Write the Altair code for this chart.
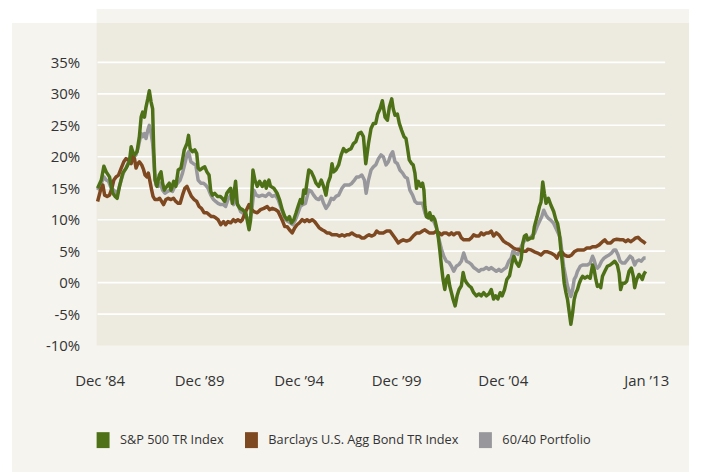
import altair as alt
import pandas as pd

# (year, rolling annualized return %)
sp500 = [(1984.92,15.0),(1985.11,16.3),(1985.24,18.5),(1985.36,17.6),(1985.53,16.8),(1985.62,15.3),(1985.70,14.2),(1985.82,13.7),(1985.92,13.4),(1986.04,15.3),(1986.21,17.4),(1986.38,18.2),(1986.55,19.2),(1986.64,21.6),(1986.72,20.8),(1986.81,20.3),(1986.94,20.8),(1987.06,23.2),(1987.15,26.3),(1987.23,27.1),(1987.32,26.3),(1987.40,27.9),(1987.49,29.2),(1987.57,30.5),(1987.66,28.7),(1987.74,27.6),(1987.79,21.6),(1987.86,16.3),(1987.96,15.3),(1988.08,17.1),(1988.17,17.6),(1988.25,15.8),(1988.34,14.7),(1988.47,15.3),(1988.59,15.8),(1988.68,14.7),(1988.82,16.1),(1988.93,15.3),(1989.05,17.9),(1989.19,18.2),(1989.27,19.5),(1989.36,21.1),(1989.50,22.1),(1989.58,23.4),(1989.66,21.3),(1989.78,20.8),(1989.90,21.1),(1990.00,20.5),(1990.07,18.2),(1990.17,17.9),(1990.29,18.2),(1990.41,18.4),(1990.52,17.6),(1990.63,17.1),(1990.72,14.5),(1990.80,13.9),(1990.92,14.2),(1991.06,13.7),(1991.20,13.7),(1991.31,13.4),(1991.43,12.9),(1991.54,14.2),(1991.65,14.7),(1991.74,15.0),(1991.82,12.6),(1991.91,14.2),(1991.99,16.1),(1992.08,12.4),(1992.22,11.8),(1992.34,11.6),(1992.51,11.1),(1992.68,8.4),(1992.76,10.0),(1992.88,17.9),(1992.98,16.3),(1993.10,15.3),(1993.22,16.1),(1993.36,15.3),(1993.49,16.1),(1993.56,15.0),(1993.70,16.3),(1993.78,15.3),(1993.95,15.0),(1994.12,14.2),(1994.24,13.2),(1994.38,11.6),(1994.51,10.5),(1994.63,10.0),(1994.75,10.5),(1994.85,9.5),(1994.97,10.0),(1995.09,11.1),(1995.19,12.1),(1995.31,13.2),(1995.40,12.6),(1995.48,14.7),(1995.57,14.2),(1995.74,17.9),(1995.87,17.6),(1995.99,16.8),(1996.11,15.8),(1996.25,15.3),(1996.38,16.3),(1996.50,15.3),(1996.62,13.9),(1996.72,15.8),(1996.84,16.8),(1996.93,18.9),(1997.01,17.6),(1997.13,17.9),(1997.27,18.7),(1997.40,20.3),(1997.52,21.3),(1997.64,20.8),(1997.78,21.1),(1997.91,21.3),(1998.03,22.1),(1998.15,22.4),(1998.29,23.7),(1998.42,23.9),(1998.54,23.2),(1998.66,18.9),(1998.80,22.1),(1998.93,24.5),(1999.05,25.3),(1999.17,25.3),(1999.27,26.8),(1999.39,27.6),(1999.51,28.9),(1999.65,26.3),(1999.77,25.8),(1999.87,27.9),(1999.99,29.2),(2000.07,27.6),(2000.16,26.6),(2000.28,26.8),(2000.38,25.3),(2000.50,24.2),(2000.62,23.2),(2000.72,22.9),(2000.79,21.6),(2000.89,19.5),(2001.01,18.9),(2001.09,18.7),(2001.18,17.4),(2001.26,15.0),(2001.35,16.1),(2001.47,15.3),(2001.57,15.8),(2001.64,14.7),(2001.69,12.1),(2001.77,10.5),(2001.86,10.3),(2001.94,11.1),(2002.03,10.0),(2002.11,10.5),(2002.20,10.0),(2002.28,8.9),(2002.37,7.4),(2002.45,5.3),(2002.54,2.6),(2002.62,0.5),(2002.71,-1.1),(2002.79,0.5),(2002.88,1.1),(2002.96,-0.5),(2003.05,-1.6),(2003.13,-2.6),(2003.24,-3.7),(2003.34,-2.1),(2003.44,-1.1),(2003.56,-0.5),(2003.65,1.6),(2003.73,0.5),(2003.82,0.0),(2003.95,-0.5),(2004.07,-0.8),(2004.19,-1.6),(2004.33,-2.1),(2004.46,-1.8),(2004.58,-2.1),(2004.70,-1.6),(2004.84,-2.1),(2004.97,-1.8),(2005.09,-1.1),(2005.21,-2.6),(2005.31,-2.1),(2005.43,-2.6),(2005.55,-1.6),(2005.65,-2.1),(2005.77,-1.1),(2005.89,0.5),(2006.03,1.1),(2006.16,3.2),(2006.25,4.2),(2006.37,3.2),(2006.50,2.6),(2006.62,3.7),(2006.71,6.3),(2006.79,7.4),(2006.88,7.6),(2006.96,6.8),(2007.13,7.1),(2007.22,7.1),(2007.30,8.9),(2007.44,10.5),(2007.56,12.1),(2007.64,12.8),(2007.73,16.0),(2007.81,14.2),(2007.90,12.6),(2008.02,13.4),(2008.15,12.3),(2008.29,11.3),(2008.41,9.9),(2008.49,9.4),(2008.58,7.8),(2008.66,5.2),(2008.75,2.6),(2008.83,-0.1),(2008.92,-1.6),(2009.00,-2.7),(2009.09,-4.8),(2009.17,-6.6),(2009.26,-4.8),(2009.34,-2.7),(2009.43,-1.6),(2009.51,-1.1),(2009.60,-0.1),(2009.68,0.5),(2009.77,1.0),(2009.89,0.7),(2010.02,1.0),(2010.16,0.7),(2010.28,2.8),(2010.36,2.1),(2010.45,0.5),(2010.53,-0.6),(2010.62,-0.4),(2010.70,-0.8),(2010.79,1.0),(2010.91,1.8),(2011.04,2.6),(2011.18,2.8),(2011.30,3.1),(2011.42,3.4),(2011.55,2.8),(2011.64,1.5),(2011.72,-1.1),(2011.81,-0.1),(2011.93,-0.1),(2012.03,0.2),(2012.15,1.8),(2012.27,2.3),(2012.37,1.0),(2012.44,-0.8),(2012.54,0.5),(2012.66,1.3),(2012.74,1.0),(2012.83,0.5),(2012.91,1.3),(2013.00,1.8)]

barclays = [(1984.92,12.9),(1985.07,14.7),(1985.19,15.5),(1985.28,13.9),(1985.41,13.7),(1985.53,13.9),(1985.65,15.0),(1985.75,16.3),(1985.87,16.8),(1985.99,17.1),(1986.13,18.2),(1986.26,19.2),(1986.38,19.7),(1986.50,19.5),(1986.64,18.9),(1986.72,20.3),(1986.81,19.7),(1986.89,18.2),(1986.98,18.9),(1987.06,19.2),(1987.18,18.7),(1987.28,17.9),(1987.35,17.1),(1987.45,16.8),(1987.52,17.4),(1987.62,15.8),(1987.69,14.7),(1987.76,13.7),(1987.86,13.2),(1988.00,13.2),(1988.10,13.4),(1988.20,12.9),(1988.30,12.4),(1988.42,13.2),(1988.54,13.4),(1988.68,13.2),(1988.81,13.4),(1988.93,12.9),(1989.05,12.6),(1989.15,12.6),(1989.27,13.9),(1989.39,15.0),(1989.50,15.3),(1989.61,14.5),(1989.73,13.7),(1989.87,13.2),(1990.00,12.9),(1990.12,12.1),(1990.24,11.8),(1990.38,11.1),(1990.52,11.1),(1990.63,10.8),(1990.75,10.5),(1990.86,10.5),(1990.97,10.3),(1991.09,10.0),(1991.23,9.2),(1991.37,9.7),(1991.48,9.2),(1991.60,9.7),(1991.74,9.5),(1991.88,10.0),(1991.99,9.7),(1992.11,10.0),(1992.25,9.7),(1992.34,10.0),(1992.51,11.3),(1992.68,12.4),(1992.81,11.6),(1992.93,11.3),(1993.10,11.1),(1993.27,11.6),(1993.44,11.8),(1993.61,12.1),(1993.73,11.6),(1993.87,11.8),(1994.04,11.6),(1994.17,11.3),(1994.29,10.5),(1994.41,9.7),(1994.51,8.9),(1994.63,8.9),(1994.75,8.4),(1994.89,7.9),(1995.02,8.7),(1995.14,9.2),(1995.26,9.5),(1995.40,10.0),(1995.53,9.7),(1995.65,10.0),(1995.77,9.7),(1995.91,10.0),(1996.04,9.7),(1996.16,9.2),(1996.28,8.7),(1996.42,8.4),(1996.55,8.2),(1996.67,7.9),(1996.79,7.9),(1996.93,7.6),(1997.06,7.6),(1997.18,7.6),(1997.30,7.4),(1997.44,7.6),(1997.57,7.4),(1997.69,7.6),(1997.81,7.6),(1997.95,7.9),(1998.08,7.6),(1998.20,7.4),(1998.32,7.4),(1998.46,7.1),(1998.59,7.1),(1998.71,7.4),(1998.83,7.6),(1998.97,7.4),(1999.10,7.6),(1999.22,8.2),(1999.34,7.9),(1999.48,7.9),(1999.56,7.9),(1999.73,8.2),(1999.90,8.2),(2000.04,7.6),(2000.16,7.1),(2000.33,6.3),(2000.45,6.6),(2000.58,6.8),(2000.75,6.6),(2000.92,6.8),(2001.09,7.4),(2001.26,7.9),(2001.43,7.9),(2001.57,8.2),(2001.69,8.4),(2001.77,8.2),(2001.91,7.9),(2002.03,7.9),(2002.15,7.9),(2002.28,8.2),(2002.42,7.9),(2002.54,7.6),(2002.66,7.9),(2002.79,7.9),(2002.93,7.6),(2003.05,7.9),(2003.17,7.6),(2003.30,7.9),(2003.44,7.9),(2003.56,7.1),(2003.68,6.8),(2003.82,6.8),(2003.95,6.8),(2004.07,7.1),(2004.19,7.6),(2004.33,7.4),(2004.46,7.4),(2004.58,7.9),(2004.70,7.6),(2004.84,7.9),(2004.97,7.9),(2005.09,8.2),(2005.21,7.4),(2005.35,7.9),(2005.48,7.6),(2005.60,7.1),(2005.72,6.6),(2005.86,6.3),(2005.99,6.1),(2006.11,5.8),(2006.23,5.5),(2006.37,5.3),(2006.50,5.3),(2006.62,5.0),(2006.74,5.0),(2006.88,5.0),(2006.96,5.3),(2007.13,5.2),(2007.30,4.9),(2007.47,4.7),(2007.64,4.4),(2007.81,4.9),(2007.98,4.9),(2008.15,4.7),(2008.32,4.4),(2008.46,3.9),(2008.58,4.7),(2008.70,4.9),(2008.83,4.4),(2008.97,4.2),(2009.09,4.2),(2009.21,4.4),(2009.34,4.9),(2009.51,5.2),(2009.68,5.2),(2009.85,5.2),(2009.99,5.5),(2010.16,5.5),(2010.28,5.7),(2010.45,5.7),(2010.62,6.0),(2010.79,6.5),(2010.91,6.8),(2011.04,6.3),(2011.21,6.3),(2011.38,6.8),(2011.52,6.9),(2011.69,6.8),(2011.86,6.8),(2011.98,6.5),(2012.10,6.8),(2012.23,6.5),(2012.37,6.8),(2012.49,7.1),(2012.61,7.2),(2012.74,6.8),(2012.88,6.5),(2013.00,6.2)]

portfolio = [(1984.92,14.7),(1985.11,15.8),(1985.24,16.8),(1985.36,16.3),(1985.48,16.1),(1985.62,15.0),(1985.75,14.7),(1985.87,14.2),(1985.99,14.7),(1986.13,16.3),(1986.26,17.6),(1986.38,18.2),(1986.50,19.2),(1986.64,20.3),(1986.77,20.0),(1986.89,20.3),(1987.01,21.6),(1987.15,23.7),(1987.23,23.2),(1987.32,23.7),(1987.40,22.9),(1987.49,24.2),(1987.57,25.0),(1987.66,23.7),(1987.74,22.1),(1987.83,17.9),(1987.91,15.5),(1988.03,15.3),(1988.13,15.8),(1988.25,14.7),(1988.37,14.2),(1988.51,14.5),(1988.64,14.7),(1988.76,14.5),(1988.88,15.3),(1989.02,15.8),(1989.15,16.3),(1989.27,17.4),(1989.39,18.9),(1989.50,20.3),(1989.58,20.8),(1989.70,19.2),(1989.83,18.9),(1989.95,18.7),(1990.07,16.3),(1990.21,15.8),(1990.35,15.8),(1990.46,15.5),(1990.58,15.0),(1990.72,13.9),(1990.86,13.2),(1990.97,12.9),(1991.09,12.6),(1991.23,12.4),(1991.37,12.4),(1991.48,12.1),(1991.60,13.2),(1991.74,13.9),(1991.88,12.4),(1991.99,13.4),(1992.11,12.4),(1992.25,11.3),(1992.34,11.1),(1992.51,10.8),(1992.68,9.5),(1992.81,11.1),(1992.93,14.7),(1993.05,13.9),(1993.19,13.7),(1993.36,13.9),(1993.53,13.7),(1993.70,14.2),(1993.87,13.7),(1994.04,13.9),(1994.17,13.2),(1994.29,12.1),(1994.41,11.1),(1994.55,10.0),(1994.68,9.7),(1994.80,9.5),(1994.92,9.2),(1995.06,10.0),(1995.19,11.1),(1995.31,12.1),(1995.43,12.4),(1995.57,12.6),(1995.74,14.7),(1995.87,14.5),(1995.99,13.9),(1996.11,13.4),(1996.25,13.2),(1996.38,13.7),(1996.50,12.6),(1996.62,11.8),(1996.76,12.4),(1996.89,13.4),(1997.01,13.2),(1997.13,13.7),(1997.27,13.9),(1997.44,15.0),(1997.57,15.5),(1997.69,15.5),(1997.81,15.5),(1997.95,15.8),(1998.08,16.3),(1998.20,16.8),(1998.32,16.8),(1998.46,17.1),(1998.59,16.3),(1998.68,14.2),(1998.80,16.3),(1998.93,17.9),(1999.05,18.4),(1999.17,18.7),(1999.31,19.7),(1999.44,20.3),(1999.56,20.0),(1999.70,18.7),(1999.82,19.2),(1999.94,20.3),(2000.04,20.8),(2000.16,19.2),(2000.28,18.9),(2000.41,17.9),(2000.55,17.4),(2000.67,16.8),(2000.79,16.6),(2000.92,14.7),(2001.06,13.9),(2001.18,12.9),(2001.30,12.6),(2001.43,12.6),(2001.57,12.6),(2001.69,11.1),(2001.77,10.5),(2001.91,10.3),(2002.03,10.0),(2002.15,9.7),(2002.28,8.7),(2002.42,6.8),(2002.54,5.3),(2002.66,4.2),(2002.79,3.4),(2002.93,3.2),(2003.05,2.6),(2003.17,1.8),(2003.30,2.6),(2003.44,2.9),(2003.56,3.4),(2003.68,4.7),(2003.82,3.4),(2003.95,3.2),(2004.07,2.9),(2004.19,2.4),(2004.33,2.1),(2004.46,1.8),(2004.58,2.1),(2004.70,2.1),(2004.84,2.4),(2004.97,2.1),(2005.09,2.4),(2005.21,2.1),(2005.35,1.8),(2005.48,2.1),(2005.60,1.8),(2005.72,2.1),(2005.86,2.4),(2005.99,3.4),(2006.11,3.9),(2006.20,5.0),(2006.33,4.7),(2006.45,4.5),(2006.57,5.3),(2006.71,6.3),(2006.84,6.8),(2006.96,6.8),(2007.13,7.3),(2007.30,7.8),(2007.44,8.9),(2007.56,9.7),(2007.68,10.5),(2007.78,11.5),(2007.90,10.7),(2008.02,10.2),(2008.15,9.9),(2008.29,9.4),(2008.41,8.6),(2008.53,7.8),(2008.63,7.1),(2008.70,5.2),(2008.80,2.6),(2008.92,0.7),(2009.00,-0.6),(2009.09,-1.4),(2009.17,-2.2),(2009.26,-1.1),(2009.34,0.5),(2009.43,1.0),(2009.51,1.8),(2009.65,2.6),(2009.77,2.8),(2009.89,2.8),(2010.02,2.8),(2010.16,3.1),(2010.28,4.2),(2010.36,3.6),(2010.45,2.6),(2010.53,2.3),(2010.62,2.6),(2010.74,3.4),(2010.87,3.9),(2011.01,4.2),(2011.13,4.4),(2011.25,4.7),(2011.38,5.2),(2011.47,5.2),(2011.59,4.4),(2011.69,3.4),(2011.81,3.1),(2011.93,3.1),(2012.06,3.6),(2012.20,4.2),(2012.32,3.9),(2012.44,2.8),(2012.54,3.4),(2012.66,3.6),(2012.78,3.4),(2012.91,3.9),(2013.00,3.9)]

series_names = ["S&P 500 TR Index", "Barclays U.S. Agg Bond TR Index", "60/40 Portfolio"]
series_colors = ["#4e7117", "#7e4820", "#98989c"]
y_ticks = [-10, -5, 0, 5, 10, 15, 20, 25, 30, 35]
grid_values = [-5, 0, 5, 10, 15, 20, 25, 30, 35]
x_tick_values = [1985.02, 1990.12, 1995.22, 2000.22, 2005.68, 2013.03]
x_tick_labels = ["Dec \u201984", "Dec \u201989", "Dec \u201994", "Dec \u201999", "Dec \u201904", "Jan \u201913"]

frames = []
for name, pts in zip(series_names, [sp500, barclays, portfolio]):
    frames.append(pd.DataFrame({"year": [p[0] for p in pts], "ret": [p[1] for p in pts], "series": name}))
df = pd.concat(frames, ignore_index=True)

FONT = "Open Sans"
TXT = "#333333"
W, H = 595, 324

label_expr = ""
for i, (v, lab) in enumerate(zip(x_tick_values, x_tick_labels)):
    if i < len(x_tick_values) - 1:
        mid = (v + x_tick_values[i + 1]) / 2
        label_expr += f"datum.value < {mid:.2f} ? '{lab}' : "
    else:
        label_expr += f"'{lab}'"

x_scale = alt.Scale(domain=[1984.869, 2015.226], nice=False, zero=False)
y_scale = alt.Scale(domain=[-10, 41.27], nice=False, zero=False)

x_axis = alt.Axis(values=x_tick_values, labelExpr=label_expr, title=None, grid=False,
                  ticks=False, domain=False, labelPadding=28, labelFontSize=15,
                  labelFont=FONT, labelColor=TXT, labelFlush=False, zindex=2)
y_axis = alt.Axis(values=y_ticks, labelExpr="datum.value + '%'", title=None, grid=False,
                  ticks=False, domain=False, labelPadding=17, labelFontSize=15,
                  labelFont=FONT, labelColor=TXT, zindex=2)

one = pd.DataFrame({"k": [0]})
light_bg = alt.Chart(one).mark_rect(color="#f5f4ef", clip=False).encode(
    x=alt.value(-85), x2=alt.value(W), y=alt.value(0), y2=alt.value(452))
light_top = alt.Chart(one).mark_rect(color="#f5f4ef", clip=False).encode(
    x=alt.value(0), x2=alt.value(W), y=alt.value(-14), y2=alt.value(0))
dark_bg = alt.Chart(one).mark_rect(color="#edebe0", clip=False).encode(
    x=alt.value(0), x2=alt.value(W), y=alt.value(0), y2=alt.value(H))

grid = alt.Chart(pd.DataFrame({"g": grid_values})).mark_rule(color="white", strokeWidth=1.6).encode(
    y=alt.Y("g:Q", scale=y_scale, axis=y_axis), x=alt.value(1), x2=alt.value(571))

color_scale = alt.Scale(domain=series_names, range=series_colors)

legend = alt.Legend(title=None, orient="none", legendX=-1.5, legendY=411,
                    direction="horizontal", columns=3,
                    symbolType="M-0.8125,-1H0.8125V1H-0.8125Z",
                    symbolSize=256, symbolStrokeWidth=0,
                    labelFont=FONT, labelFontSize=12.8, labelColor=TXT, labelLimit=0,
                    labelOffset=9, columnPadding=19, padding=0, zindex=2)

# invisible filled points carry the legend (filled square swatches)
legend_layer = alt.Chart(df).mark_point(filled=True, opacity=1).encode(
    x=alt.X("year:Q", scale=x_scale, axis=x_axis),
    y=alt.Y("ret:Q", scale=y_scale, axis=y_axis),
    color=alt.Color("series:N", scale=color_scale, legend=legend),
    size=alt.value(0))

def line(name):
    return alt.Chart(df).transform_filter(alt.datum.series == name).mark_line(
        strokeWidth=3.5, strokeJoin="round").encode(
        x=alt.X("year:Q", scale=x_scale, axis=x_axis),
        y=alt.Y("ret:Q", scale=y_scale, axis=y_axis),
        color=alt.Color("series:N", scale=color_scale),
        order="year:Q")

chart = alt.layer(light_bg, light_top, dark_bg, grid, legend_layer,
                  line(series_names[2]), line(series_names[1]), line(series_names[0])).properties(
    width=W, height=H,
    autosize=alt.AutoSizeParams(type="none"),
    padding={"left": 89, "top": 14, "right": 12, "bottom": 126},
    background="white",
).configure_view(stroke="transparent")

chart.save("out.html", embed_options={"renderer": "svg", "actions": False})
